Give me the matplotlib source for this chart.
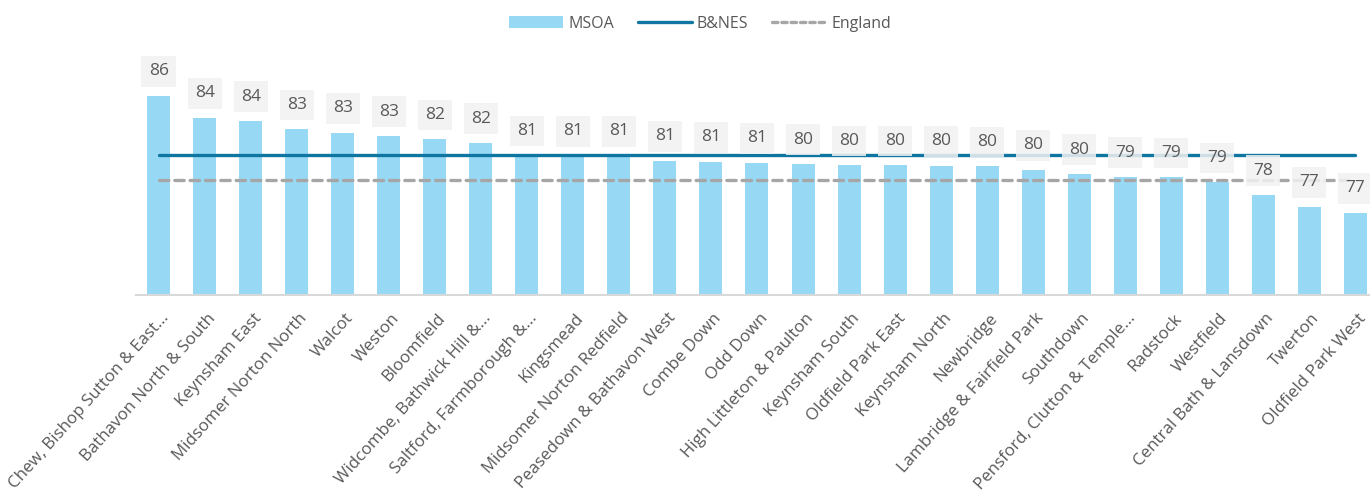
import matplotlib
matplotlib.use("Agg")
import matplotlib.pyplot as plt
import matplotlib.transforms as mtransforms
from matplotlib.lines import Line2D
from matplotlib.patches import Patch

plt.rcParams['font.family'] = ['Open Sans', 'DejaVu Sans']

areas = [
    "Chew, Bishop Sutton & East...", "Bathavon North & South", "Keynsham East",
    "Midsomer Norton North", "Walcot", "Weston", "Bloomfield",
    "Widcombe, Bathwick Hill &...", "Saltford, Farmborough &...", "Kingsmead",
    "Midsomer Norton Redfield", "Peasedown & Bathavon West", "Combe Down",
    "Odd Down", "High Littleton & Paulton", "Keynsham South", "Oldfield Park East",
    "Keynsham North", "Newbridge", "Lambridge & Fairfield Park", "Southdown",
    "Pensford, Clutton & Temple...", "Radstock", "Westfield",
    "Central Bath & Lansdown", "Twerton", "Oldfield Park West",
]
msoa = [85.88, 84.13, 83.86, 83.20, 82.93, 82.67, 82.41, 82.11, 81.12, 81.11,
        81.10, 80.70, 80.62, 80.54, 80.44, 80.33, 80.33, 80.30, 80.25, 79.98,
        79.64, 79.40, 79.38, 78.98, 77.97, 77.04, 76.56]
bnes_value = 81.12
england_value = 79.16
y_min, y_max = 70, 90

bar_color = "#97D9F5"
bnes_color = "#0F76A1"
eng_color = "#A6A6A6"
text_color = "#595959"

fig = plt.figure(figsize=(13.70, 5.01), dpi=100)
ax = fig.add_axes([0.0991, 0.4112, 1.006 - 0.0991, 0.9122 - 0.4112])

x = list(range(len(areas)))
ax.bar(x, msoa, width=0.5, color=bar_color, zorder=2)
ax.plot(x, [bnes_value] * len(x), color=bnes_color, lw=2.4, zorder=3,
        solid_capstyle='round')
ax.plot(x, [england_value] * len(x), color=eng_color, lw=2.4, zorder=3,
        dashes=(2.8, 1.8), dash_capstyle='round')

for xi, v in zip(x, msoa):
    ax.annotate(f"{v:.0f}", (xi, v), xytext=(0, 17.5), textcoords='offset points',
                ha='center', va='center', fontsize=12.5, color=text_color, zorder=5,
                bbox=dict(boxstyle='square,pad=0.42', fc='#F2F2F2', ec='none', alpha=0.85))

ax.set_xlim(-0.5, len(areas) - 0.5)
ax.set_ylim(y_min, y_max)
ax.set_yticks([])
for s in ['top', 'right', 'left']:
    ax.spines[s].set_visible(False)
ax.spines['bottom'].set_color('#D9D9D9')
ax.spines['bottom'].set_linewidth(1.5)
ax.spines['bottom'].set_zorder(4)
ax.set_xticks(x)
ax.set_xticklabels(areas, rotation=48, ha='right', rotation_mode='anchor',
                   fontsize=12.2, color=text_color)
ax.tick_params(axis='x', length=0, pad=11)
offset = mtransforms.ScaledTranslation(2 / 100, 0, fig.dpi_scale_trans)
for lab in ax.get_xticklabels():
    lab.set_transform(lab.get_transform() + offset)

handles = [Patch(facecolor=bar_color, edgecolor='none', label='MSOA'),
           Line2D([0], [0], color=bnes_color, lw=2.4, label='B&NES', solid_capstyle='round'),
           Line2D([0], [0], color=eng_color, lw=2.4, dashes=(1.6, 1.2),
                  dash_capstyle='round', label='England')]
leg = fig.legend(handles=handles, loc='center', bbox_to_anchor=(0.511, 0.953), ncol=3,
                 frameon=False, fontsize=11.5, handlelength=3.4, handletextpad=0.3,
                 columnspacing=1.5)
for t in leg.get_texts():
    t.set_color(text_color)

fig.savefig("out.png", dpi=100, facecolor='white')
